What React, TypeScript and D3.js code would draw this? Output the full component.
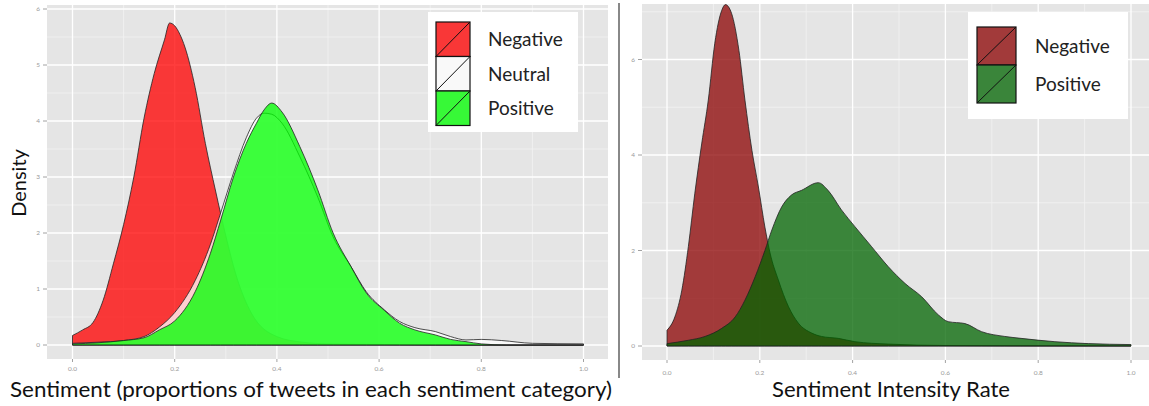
import React from "react";
import * as d3 from "d3";

// Density of the share of tweets per sentiment category: [proportion, density]
const proportionNegative: [number, number][] = [
  [0, 0.17], [0.02, 0.27], [0.04, 0.4], [0.06, 0.8], [0.08, 1.45], [0.1, 2.15],
  [0.12, 3.0], [0.14, 4.05], [0.16, 4.85], [0.18, 5.45], [0.19, 5.75], [0.2, 5.7],
  [0.21, 5.55], [0.22, 5.32], [0.24, 4.6], [0.26, 3.6], [0.28, 2.75], [0.3, 1.95],
  [0.32, 1.25], [0.35, 0.57], [0.4, 0.15], [0.45, 0.05], [0.5, 0.02], [0.6, 0.01],
  [0.8, 0.0], [1.0, 0.0],
];
const proportionNeutral: [number, number][] = [
  [0, 0.03], [0.05, 0.05], [0.1, 0.08], [0.14, 0.15], [0.17, 0.32], [0.2, 0.58],
  [0.24, 1.15], [0.27, 1.8], [0.29, 2.36], [0.315, 3.07], [0.34, 3.7], [0.36, 4.05],
  [0.375, 4.14], [0.39, 4.12], [0.41, 3.96], [0.445, 3.36], [0.48, 2.64], [0.51, 1.93],
  [0.545, 1.4], [0.575, 0.95], [0.61, 0.63], [0.64, 0.42], [0.67, 0.31], [0.71, 0.24],
  [0.74, 0.15], [0.77, 0.09], [0.8, 0.1], [0.84, 0.08], [0.9, 0.03], [1.0, 0.02],
];
const proportionPositive: [number, number][] = [
  [0, 0.02], [0.05, 0.04], [0.1, 0.08], [0.14, 0.13], [0.17, 0.27], [0.2, 0.43],
  [0.24, 0.95], [0.27, 1.64], [0.29, 2.23], [0.315, 3.0], [0.34, 3.6], [0.36, 3.96],
  [0.375, 4.2], [0.39, 4.32], [0.41, 4.16], [0.445, 3.54], [0.48, 2.77], [0.51, 2.0],
  [0.545, 1.4], [0.575, 0.93], [0.61, 0.62], [0.64, 0.39], [0.67, 0.27], [0.71, 0.18],
  [0.74, 0.1], [0.77, 0.06], [0.8, 0.02], [0.85, 0.0], [1.0, 0.0],
];

// Density of the sentiment intensity rate: [rate, density]
const intensityNegative: [number, number][] = [
  [0, 0.33], [0.017, 0.61], [0.032, 1.17], [0.046, 2.08], [0.06, 3.2], [0.075, 4.25],
  [0.089, 5.15], [0.103, 6.34], [0.118, 7.03], [0.126, 7.15], [0.139, 6.97],
  [0.155, 6.19], [0.168, 5.15], [0.183, 4.1], [0.197, 3.33], [0.211, 2.49],
  [0.222, 1.95], [0.24, 1.38], [0.262, 0.82], [0.283, 0.48], [0.312, 0.27],
  [0.333, 0.2], [0.369, 0.16], [0.405, 0.09], [0.477, 0.04], [0.6, 0.01], [1.0, 0.0],
];
const intensityPositive: [number, number][] = [
  [0, 0.05], [0.046, 0.12], [0.082, 0.2], [0.118, 0.37], [0.147, 0.61], [0.168, 0.96],
  [0.19, 1.45], [0.211, 2.0], [0.226, 2.43], [0.247, 2.91], [0.268, 3.16], [0.29, 3.26],
  [0.326, 3.42], [0.347, 3.26], [0.376, 2.85], [0.405, 2.5], [0.441, 2.08],
  [0.477, 1.66], [0.513, 1.31], [0.549, 1.03], [0.585, 0.65], [0.606, 0.51],
  [0.642, 0.47], [0.678, 0.3], [0.728, 0.2], [0.763, 0.16], [0.836, 0.09],
  [0.908, 0.05], [1.0, 0.03],
];

const xTicks = [0, 0.2, 0.4, 0.6, 0.8, 1.0];
const xMinorTicks = [0.1, 0.3, 0.5, 0.7, 0.9];
const leftYTicks = [0, 1, 2, 3, 4, 5, 6];
const leftYMinor = [0.5, 1.5, 2.5, 3.5, 4.5, 5.5];
const rightYTicks = [0, 2, 4, 6];
const rightYMinor = [1, 3, 5, 7];

const leftLabels = ["Negative", "Neutral", "Positive"];
const rightLabels = ["Negative", "Positive"];

const FONT = "Lato, 'Open Sans', sans-serif";

type Series = { data: [number, number][]; fill: string };

type PanelProps = {
  id: string;
  rect: { x0: number; x1: number; y0: number; y1: number };
  xRange: [number, number];
  yDomainMax: number;
  yRange: [number, number];
  yTicks: number[];
  yMinor: number[];
  series: Series[];
  fillOpacity: number;
  xLabelY: number;
};

function Panel(p: PanelProps) {
  const x = d3.scaleLinear().domain([0, 1]).range(p.xRange);
  const y = d3.scaleLinear().domain([0, p.yDomainMax]).range(p.yRange);
  const area = d3
    .area<[number, number]>()
    .x((d) => x(d[0]))
    .y0(y(0))
    .y1((d) => y(d[1]))
    .curve(d3.curveMonotoneX);
  const { x0, x1, y0, y1 } = p.rect;
  return (
    <g>
      <defs>
        <clipPath id={p.id}>
          <rect x={x0} y={y0} width={x1 - x0} height={y1 - y0} />
        </clipPath>
      </defs>
      <rect x={x0} y={y0} width={x1 - x0} height={y1 - y0} fill="#e5e5e5" />
      <g clipPath={`url(#${p.id})`}>
        {xMinorTicks.map((t) => (
          <line key={"xm" + t} x1={x(t)} x2={x(t)} y1={y0} y2={y1} stroke="#f2f2f2" strokeWidth={0.8} />
        ))}
        {p.yMinor.map((t) => (
          <line key={"ym" + t} x1={x0} x2={x1} y1={y(t)} y2={y(t)} stroke="#f2f2f2" strokeWidth={0.8} />
        ))}
        {xTicks.map((t) => (
          <line key={"xM" + t} x1={x(t)} x2={x(t)} y1={y0} y2={y1} stroke="#ffffff" strokeWidth={1.3} />
        ))}
        {p.yTicks.map((t) => (
          <line key={"yM" + t} x1={x0} x2={x1} y1={y(t)} y2={y(t)} stroke="#ffffff" strokeWidth={1.3} />
        ))}
        {p.series.map((s, i) => (
          <path
            key={i}
            d={area(s.data) + "Z"}
            fill={s.fill}
            fillOpacity={p.fillOpacity}
            stroke="#222"
            strokeWidth={0.8}
            strokeLinejoin="round"
          />
        ))}
      </g>
      {xTicks.map((t) => (
        <g key={"xt" + t}>
          <line x1={x(t)} x2={x(t)} y1={y1} y2={y1 + 3} stroke="#8a8a8a" strokeWidth={0.8} />
          <text x={x(t)} y={p.xLabelY} fontSize={6.5} fill="#9a9a9a" textAnchor="middle" fontFamily={FONT}>
            {t.toFixed(1)}
          </text>
        </g>
      ))}
      {p.yTicks.map((t) => (
        <g key={"yt" + t}>
          <line x1={x0 - 4} x2={x0} y1={y(t)} y2={y(t)} stroke="#8a8a8a" strokeWidth={0.8} />
          <text x={x0 - 7} y={y(t) + 2.3} fontSize={6.5} fill="#9a9a9a" textAnchor="end" fontFamily={FONT}>
            {t}
          </text>
        </g>
      ))}
    </g>
  );
}

type LegendProps = {
  box: { x: number; y: number; w: number; h: number };
  keyX: number;
  keyY: number;
  keyW: number;
  keyH: number;
  labelX: number;
  labels: string[];
  fills: string[];
  fillOpacity: number;
  fontSize: number;
};

function Legend(l: LegendProps) {
  return (
    <g>
      <rect x={l.box.x} y={l.box.y} width={l.box.w} height={l.box.h} fill="#ffffff" />
      {l.labels.map((lab, i) => {
        const ky = l.keyY + i * l.keyH;
        return (
          <g key={lab}>
            <rect x={l.keyX} y={ky} width={l.keyW} height={l.keyH} fill="#e5e5e5" />
            <rect
              x={l.keyX}
              y={ky}
              width={l.keyW}
              height={l.keyH}
              fill={l.fills[i]}
              fillOpacity={l.fillOpacity}
              stroke="#111"
              strokeWidth={1.2}
            />
            <line x1={l.keyX} y1={ky + l.keyH} x2={l.keyX + l.keyW} y2={ky} stroke="#111" strokeWidth={1} />
            <text
              x={l.labelX}
              y={ky + l.keyH / 2 + l.fontSize * 0.36}
              fontSize={l.fontSize}
              fill="#222"
              fontFamily={FONT}
            >
              {lab}
            </text>
          </g>
        );
      })}
    </g>
  );
}

export default function App() {
  const leftFills = ["#ff0000", "#ffffff", "#00ff00"];
  const rightFills = ["#8b0000", "#006400"];
  return (
    <svg
      width={1149}
      height={406}
      style={{ position: "absolute", left: 0, top: 0, background: "#ffffff" }}
    >
      <Panel
        id="clipLeft"
        rect={{ x0: 47, x1: 608, y0: 5, y1: 359 }}
        xRange={[72.5, 583.5]}
        yDomainMax={6}
        yRange={[345, 9]}
        yTicks={leftYTicks}
        yMinor={leftYMinor}
        series={[
          { data: proportionNegative, fill: leftFills[0] },
          { data: proportionNeutral, fill: leftFills[1] },
          { data: proportionPositive, fill: leftFills[2] },
        ]}
        fillOpacity={0.76}
        xLabelY={371}
      />
      <Panel
        id="clipRight"
        rect={{ x0: 642, x1: 1154, y0: 4, y1: 360 }}
        xRange={[667, 1131]}
        yDomainMax={6}
        yRange={[346, 59.5]}
        yTicks={rightYTicks}
        yMinor={rightYMinor}
        series={[
          { data: intensityNegative, fill: rightFills[0] },
          { data: intensityPositive, fill: rightFills[1] },
        ]}
        fillOpacity={0.75}
        xLabelY={375}
      />
      <Legend
        box={{ x: 428, y: 12, w: 150, h: 120 }}
        keyX={436}
        keyY={22}
        keyW={34}
        keyH={34.5}
        labelX={488}
        labels={leftLabels}
        fills={leftFills}
        fillOpacity={0.76}
        fontSize={19}
      />
      <Legend
        box={{ x: 968, y: 12, w: 160, h: 107 }}
        keyX={977}
        keyY={27}
        keyW={39}
        keyH={38}
        labelX={1035}
        labels={rightLabels}
        fills={rightFills}
        fillOpacity={0.75}
        fontSize={19}
      />
      <line x1={619} x2={619} y1={3} y2={378} stroke="#888888" strokeWidth={2} />
      <text
        transform="translate(26,183) rotate(-90)"
        textAnchor="middle"
        fontSize={20}
        fill="#111"
        fontFamily={FONT}
      >
        Density
      </text>
      <text
        x={10}
        y={397}
        fontSize={21}
        fill="#111"
        fontFamily={FONT}
        textLength={602}
        lengthAdjust="spacingAndGlyphs"
      >
        Sentiment (proportions of tweets in each sentiment category)
      </text>
      <text
        x={772}
        y={397}
        fontSize={21}
        fill="#111"
        fontFamily={FONT}
        textLength={238}
        lengthAdjust="spacingAndGlyphs"
      >
        Sentiment Intensity Rate
      </text>
    </svg>
  );
}
